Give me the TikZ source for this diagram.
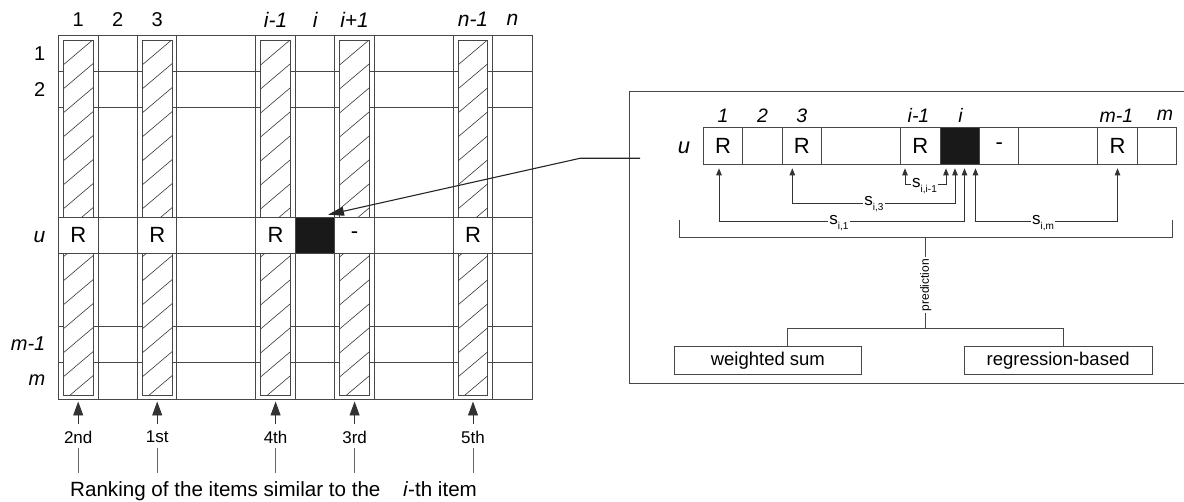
\documentclass[tikz,border=0pt]{standalone}
\usepackage{fontspec}
\setmainfont{Liberation Sans}
\usetikzlibrary{arrows.meta}
\newcommand{\mysub}[1]{\raisebox{-0.55ex}{\fontsize{10}{10}\selectfont #1}}
\begin{document}
\begin{tikzpicture}[x=1pt,y=-1pt,
  ln/.style={draw=black!72, line width=0.9pt},
  hatchln/.style={draw=black!78, line width=0.6pt},
  lab/.style={font=\fontsize{20}{22}\selectfont, inner sep=0pt},
  ilab/.style={font=\fontsize{21}{23}\selectfont\itshape, inner sep=0pt},
  rilab/.style={font=\fontsize{19.5}{21}\selectfont\itshape, inner sep=0pt},
  rtxt/.style={font=\fontsize{22}{24}\selectfont, inner sep=0pt},
  rank/.style={font=\fontsize{17}{19}\selectfont, inner sep=1pt},
  slab/.style={font=\fontsize{17}{19}\selectfont, fill=white, inner sep=1.2pt, anchor=mid},
  pbox/.style={draw=black!72, line width=0.9pt, minimum width=187.7pt, minimum height=27.6pt, inner sep=0pt, font=\fontsize{18.5}{20}\selectfont},
  bigtip/.style={-{Triangle[length=14pt,width=10pt]}},
  smalltips/.style={{Triangle[length=7pt,width=5.5pt]}-{Triangle[length=7pt,width=5.5pt]}},
]
\useasboundingbox (0,0) rectangle (1184,502);

% ---------------- left matrix ----------------
\foreach \yy in {71.4,107.9,326.4,362.9}
  \draw[ln] (58.5,\yy) -- (532.3,\yy);
\foreach \xx in {98.0,137.5,176.9,255.9,295.4,334.9,374.3,453.3,492.8}
  \draw[ln] (\xx,35) -- (\xx,399.3);
\foreach \xa/\xb in {63.5/93.0,142.5/172.0,260.9/290.4,339.9/369.3,458.3/487.8}{
  \draw[ln,fill=white] (\xa,40.7) rectangle (\xb,395);
  \begin{scope}
    \clip (\xa,40.7) rectangle (\xb,395);
    \foreach \k in {0,...,15}
      \draw[hatchln] (\xa,40.7+\k*24) -- ++(29.5,-25);
  \end{scope}
}
\draw[ln,fill=white] (58.5,217.2) rectangle (532.3,253.6);
\foreach \xx in {98.0,137.5,176.9,255.9,295.4,334.9,374.3,453.3,492.8}
  \draw[ln] (\xx,217.2) -- (\xx,253.6);
\node[rtxt] (lR1) at (78.2,235.4) {R};
\node[rtxt] (lR3) at (157.2,235.4) {R};
\node[rtxt] (lRi1) at (275.6,235.4) {R};
\node[fill=black!90, draw=black!72, line width=0.9pt, minimum width=39.5pt, minimum height=36.4pt, inner sep=0pt] (blk) at (315.1,235.4) {};
\node[rtxt] (ldash) at (354.6,235.4) {-};
\node[rtxt] (lRn1) at (473.0,235.4) {R};
\draw[ln] (58.5,35) rectangle (532.3,399.3);

% column labels
\node[lab]  (c1)  at (78.2,19.6) {1};
\node[lab]  (c2)  at (117.7,19.6) {2};
\node[lab]  (c3)  at (157.2,19.6) {3};
\node[ilab] (ci1) at (275.6,19.6) {i-1};
\node[ilab] (ci)  at (315.1,19.6) {i};
\node[ilab] (cip) at (354.6,19.6) {i+1};
\node[ilab] (cn1) at (473.0,19.6) {n-1};
\node[ilab] (cn)  at (512.5,19.6) {n};
% row labels
\node[lab,anchor=east]  (r1) at (45.5,53.2) {1};
\node[lab,anchor=east]  (r2) at (45.5,89.6) {2};
\node[ilab,anchor=east] (ru) at (45.5,237) {u};
\node[ilab,font=\fontsize{20}{22}\selectfont\itshape,anchor=east] (rm1) at (45.5,344) {m-1};
\node[ilab,font=\fontsize{20}{22}\selectfont\itshape,anchor=east] (rm) at (45.5,380.5) {m};

% rankings
\foreach \nm/\xx/\tx in {a/78.2/2nd,b/157.2/1st,c/275.6/4th,d/354.6/3rd,e/473.0/5th}{
  \coordinate (tip\nm) at (\xx,401.5);
  \coordinate (base\nm) at (\xx,424);
  \node[rank] (rk\nm) at (\xx,437) {\tx};
  \coordinate (lt\nm) at (\xx,448);
  \coordinate (lb\nm) at (\xx,473);
  \draw[ln,draw=black!80,bigtip] (base\nm) -- (tip\nm);
  \draw[ln,draw=black!60] (lt\nm) -- (lb\nm);
}
\node[font=\fontsize{20.6}{22}\selectfont, inner sep=0pt, anchor=base west] (cap1) at (70,496.5) {Ranking of the items similar to the};
\node[font=\fontsize{20.6}{22}\selectfont, inner sep=0pt, anchor=base west] (cap2) at (403,496.5) {\textit{i}-th item};

% ---------------- right panel ----------------
\draw[ln] (1190,91.7) -- (629,91.7) -- (629,383.3) -- (1190,383.3);
\draw[ln,fill=white] (703.3,127.3) rectangle (1176.7,164.3);
\foreach \xx in {742.75,782.2,821.65,900.55,940,979.45,1018.9,1097.8,1137.25}
  \draw[ln] (\xx,127.3) -- (\xx,164.3);
\node[fill=black!90, draw=black!72, line width=0.9pt, minimum width=39.45pt, minimum height=37pt, inner sep=0pt] (rblk) at (959.7,145.8) {};
\node[rtxt] (rR1) at (723.0,145.8) {R};
\node[rtxt] (rR3) at (801.9,145.8) {R};
\node[rtxt] (rRi1) at (920.3,145.8) {R};
\node[rtxt] (rdash) at (999.2,145.8) {-};
\node[rtxt] (rRm1) at (1117.5,145.8) {R};
\node[ilab,font=\fontsize{22}{24}\selectfont\itshape] (rlu) at (684,147.5) {u};
\node[rilab] (k1) at (723.0,115.7) {1};
\node[rilab] (k2) at (762.5,115.7) {2};
\node[rilab] (k3) at (801.9,115.7) {3};
\node[rilab] (ki1) at (918.5,115.7) {i-1};
\node[rilab] (ki) at (960.5,115.7) {i};
\node[rilab] (km1) at (1116.5,115.7) {m-1};
\node[rilab] (km) at (1165,115.7) {m};

% similarity arrows
\draw[ln,draw=black!80,smalltips] (905,168.3) -- (905,184.5) -- (946,184.5) -- (946,168.3);
\node[slab] (sii) at (924.5,184.5) {s\mysub{i,i-1}};
\draw[ln,draw=black!80,smalltips] (792.3,168.3) -- (792.3,203.3) -- (955,203.3) -- (955,168.3);
\node[slab] (si3) at (874,203.3) {s\mysub{i,3}};
\draw[ln,draw=black!80,smalltips] (719,168.3) -- (719,221.7) -- (964.5,221.7) -- (964.5,168.3);
\node[slab] (si1) at (839,221.7) {s\mysub{i,1}};
\draw[ln,draw=black!80,smalltips] (975.5,168.3) -- (975.5,221.7) -- (1117.5,221.7) -- (1117.5,168.3);
\node[slab] (sim) at (1043,221.7) {s\mysub{i,m}};

% bracket and prediction
\coordinate (bl) at (679,220);
\coordinate (br) at (1172.7,220);
\coordinate (bm) at (925.7,237.3);
\coordinate (pj) at (925.7,328.7);
\draw[ln] (bl) |- (bm) -| (br);
\draw[ln] (bm) -- (pj);
\node[font=\fontsize{12}{13}\selectfont, rotate=90, fill=white, inner sep=2pt] (pred) at (925.7,285) {prediction};
\node[pbox] (ws) at (767.85,360.5) {weighted sum};
\node[pbox] (rb) at (1058.15,360.5) {regression-based};
\draw[ln] (pj) -| ([xshift=19.45pt]ws.north);
\draw[ln] (pj) -| ([xshift=5.15pt]rb.north);

% connector from panel to target cell
\coordinate (cs) at (640,158.3);
\coordinate (ck) at (580,158.3);
\coordinate (ct) at (328,214.7);
\draw[line width=1.1pt, draw=black!85, -{Triangle[length=16pt,width=9pt]}] (cs) -- (ck) -- (ct);
\end{tikzpicture}
\end{document}
